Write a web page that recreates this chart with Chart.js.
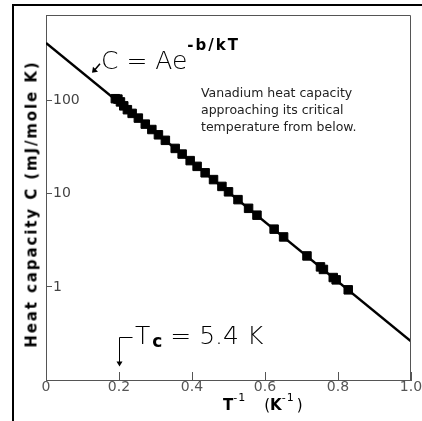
<!DOCTYPE html>
<html>
<head>
<meta charset="utf-8">
<script src="https://cdn.jsdelivr.net/npm/chart.js@4/dist/chart.umd.min.js"></script>
<style>
html,body{margin:0;padding:0;background:#fff;}
#wrap{position:relative;width:422px;height:421px;overflow:hidden;font-family:"DejaVu Sans",sans-serif;}
#frame{position:absolute;left:12px;top:4px;width:420px;height:430px;border-top:2px solid #000;border-left:2px solid #000;}
#chart{position:absolute;left:0;top:0;}
.t{position:absolute;white-space:nowrap;color:#000;line-height:1;}
#eq{left:101px;top:45px;font-size:25px;font-weight:200;}
#eq sup{font-size:15px;font-weight:bold;letter-spacing:2px;vertical-align:19px;line-height:0;}
#note{left:201px;top:84px;font-size:12.5px;line-height:17px;color:#222;}
#tc{left:135px;top:323px;font-size:25px;font-weight:200;}
#tc sub{font-size:17px;font-weight:bold;vertical-align:-3px;line-height:0;margin-left:2px;}
#xt{left:223px;top:398px;font-size:15px;}
#xt sup{font-size:11px;vertical-align:9px;line-height:0;letter-spacing:1px;}
#yt{left:32px;top:204px;font-size:15px;font-weight:bold;letter-spacing:1.9px;transform:translate(-50%,-50%) rotate(-90deg);}
</style>
</head>
<body>
<div id="wrap">
  <div id="frame"></div>
  <canvas id="chart" width="422" height="421"></canvas>
  <div class="t" id="eq">C = Ae<sup>-b/kT</sup></div>
  <div class="t" id="note">Vanadium heat capacity<br>approaching its critical<br>temperature from below.</div>
  <div class="t" id="tc">T<sub>c</sub> = 5.4 K</div>
  <div class="t" id="xt"><b>T</b><sup>-1</sup><span style="margin-left:18px">(</span><b>K</b><sup>-1</sup><span style="margin-left:2px">)</span></div>
  <div class="t" id="yt">Heat capacity C (mJ/mole K)</div>
</div>
<script>
/* DATA */
const invT=[0.190,0.197,0.204,0.213,0.223,0.236,0.253,0.272,0.290,0.308,0.327,0.354,0.373,0.395,0.414,0.436,0.459,0.482,0.500,0.526,0.555,0.578,0.625,0.651,0.715,0.752,0.760,0.787,0.795,0.828];
const heatC=[105,104,97,88,80,73,65,56,49,43,37.5,30.7,26.7,22.7,19.7,16.8,14.2,12.0,10.5,8.65,6.98,5.89,4.17,3.44,2.15,1.64,1.54,1.26,1.19,0.93];
const fitX=[0,1.0];
const fitC=[417,0.26];
const xTicks=[0,0.2,0.4,0.6,0.8,1.0];
const yTicks=[1,10,100];

/* annotation anchors (data units) */
const eqArrow={x:0.126,y:200};
const tcArrow={x:0.2,top:0.29,tip:0.14};

/* BOX + ARROWS */
const extras={
  id:"extras",
  afterDraw(chart){
    const {ctx,chartArea:a,scales:{x,y}}=chart;
    ctx.save();
    ctx.strokeStyle="#555";
    ctx.lineWidth=1;
    ctx.beginPath();
    ctx.moveTo(a.left,a.top+0.5);
    ctx.lineTo(a.right-0.5,a.top+0.5);
    ctx.lineTo(a.right-0.5,a.bottom);
    ctx.stroke();

    ctx.strokeStyle="#000";
    ctx.fillStyle="#000";

    // arrow from the formula to the line
    const ex=x.getPixelForValue(eqArrow.x), ey=y.getPixelForValue(eqArrow.y);
    ctx.lineWidth=1.5;
    ctx.beginPath();
    ctx.moveTo(ex+8,ey-9);
    ctx.lineTo(ex+2,ey-2);
    ctx.stroke();
    ctx.beginPath();
    ctx.moveTo(ex,ey);
    ctx.lineTo(ex+1,ey-6);
    ctx.lineTo(ex+6,ey-1);
    ctx.closePath();
    ctx.fill();

    // Tc bracket arrow
    const tx=Math.round(x.getPixelForValue(tcArrow.x))+0.5;
    const ty=Math.round(y.getPixelForValue(tcArrow.top))+0.5;
    const tt=y.getPixelForValue(tcArrow.tip);
    ctx.lineWidth=1;
    ctx.beginPath();
    ctx.moveTo(tx+13,ty);
    ctx.lineTo(tx,ty);
    ctx.lineTo(tx,tt-4);
    ctx.stroke();
    ctx.beginPath();
    ctx.moveTo(tx-3,tt-5);
    ctx.lineTo(tx+3,tt-5);
    ctx.lineTo(tx,tt);
    ctx.closePath();
    ctx.fill();
    ctx.restore();
  }
};

new Chart(document.getElementById("chart"),{
  type:"scatter",
  data:{
    datasets:[
      {
        data:fitX.map((v,i)=>({x:v,y:fitC[i]})),
        showLine:true,
        borderColor:"#000",
        borderWidth:2.5,
        pointRadius:0,
        order:2
      },
      {
        data:invT.map((v,i)=>({x:v,y:heatC[i]})),
        pointStyle:"rect",
        pointRadius:6,
        backgroundColor:"#000",
        borderColor:"#000",
        borderWidth:1,
        order:1
      }
    ]
  },
  options:{
    responsive:false,
    animation:false,
    devicePixelRatio:1,
    layout:{padding:{left:0,right:11,top:15,bottom:0}},
    plugins:{legend:{display:false},tooltip:{enabled:false}},
    scales:{
      x:{
        type:"linear",
        min:0,max:1,
        afterBuildTicks:s=>{s.ticks=xTicks.map(v=>({value:v}));},
        afterFit:s=>{s.height=41;s.paddingLeft=0;s.paddingRight=0;},
        grid:{drawOnChartArea:false,drawTicks:true,tickLength:-8,color:"#555"},
        border:{color:"#555",width:1},
        ticks:{
          color:"#555",padding:7,maxRotation:0,autoSkip:false,
          font:{family:"DejaVu Sans",size:14},
          callback:v=>v===0?"0":v.toFixed(1)
        }
      },
      y:{
        type:"logarithmic",
        min:0.1,max:832,
        afterBuildTicks:s=>{s.ticks=yTicks.map(v=>({value:v}));},
        afterFit:s=>{s.width=46;s.paddingTop=0;s.paddingBottom=0;},
        grid:{drawOnChartArea:false,drawTicks:true,tickLength:-6,color:"#555"},
        border:{color:"#555",width:1},
        ticks:{
          mirror:true,color:"#444",padding:7,
          font:{family:"DejaVu Sans",size:14},
          callback:v=>String(v)
        }
      }
    }
  },
  plugins:[extras]
});
</script>
</body>
</html>
